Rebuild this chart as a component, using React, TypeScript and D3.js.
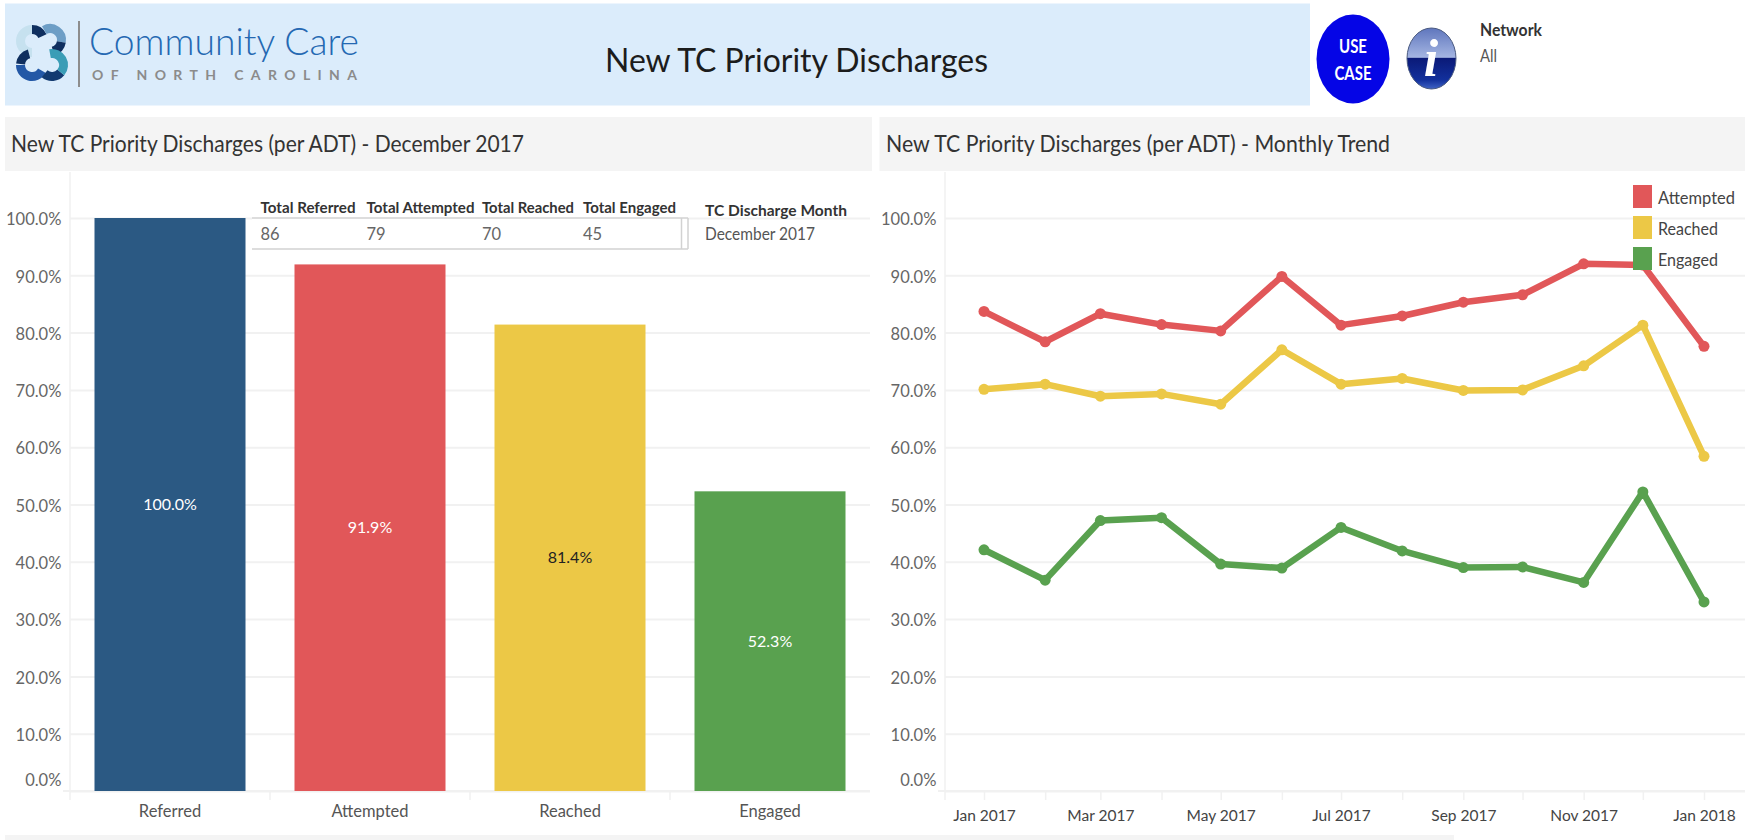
import { useEffect, useRef } from 'react'
import * as d3 from 'd3'

const categories = ['Referred', 'Attempted', 'Reached', 'Engaged']
const barValues = [100, 91.9, 81.4, 52.3]
const barColors = ['#2b5983', '#e15759', '#ecc846', '#59a14f']
const barLabelColors = ['#ffffff', '#ffffff', '#222222', '#ffffff']
const yTicks = [0, 10, 20, 30, 40, 50, 60, 70, 80, 90, 100]

const months = ['2017-01', '2017-02', '2017-03', '2017-04', '2017-05', '2017-06', '2017-07', '2017-08', '2017-09', '2017-10', '2017-11', '2017-12', '2018-01']
const attempted = [83.7, 78.4, 83.3, 81.4, 80.3, 89.8, 81.3, 82.9, 85.3, 86.6, 92.0, 91.8, 77.6]
const reached = [70.1, 71.0, 68.9, 69.3, 67.5, 77.0, 71.0, 72.0, 69.9, 70.0, 74.2, 81.3, 58.4]
const engaged = [42.1, 36.8, 47.2, 47.7, 39.6, 38.9, 46.0, 41.9, 39.0, 39.1, 36.4, 52.2, 33.0]
const trendNames = ['Attempted', 'Reached', 'Engaged']
const trendColors = ['#e15759', '#ecc846', '#59a14f']

const tableHeaders = ['Total Referred', 'Total Attempted', 'Total Reached', 'Total Engaged']
const tableValues = ['86', '79', '70', '45']

const FONT = 'Lato, sans-serif'
const GRID = '#f1f1f1'

export default function App() {
  const svgRef = useRef<SVGSVGElement>(null)

  useEffect(() => {
    if (!svgRef.current) return
    const svg = d3.select(svgRef.current)
    svg.selectAll('*').remove()
    svg.attr('font-family', FONT)

    // text squeezed to a measured width, the source font runs narrow
    const label = (x: number, y: number, str: string, size: number, fill: string, width?: number, weight = 'normal') => {
      const t = svg.append('text').attr('x', x).attr('y', y).attr('font-size', size)
        .attr('font-weight', weight).attr('fill', fill).text(str)
      if (width) t.attr('textLength', width).attr('lengthAdjust', 'spacingAndGlyphs')
      return t
    }

    // Header
    svg.append('rect').attr('x', 5).attr('y', 3.5).attr('width', 1305).attr('height', 102).attr('fill', '#dbecfb')
    label(605, 72, 'New TC Priority Discharges', 33, '#1c1c1c', 383)

    // Logo, four looped bands: cx, cy, start and end angle, colour
    const arc = d3.arc()
    const loops: [number, number, number, number, string][] = [
      [32, 41, 180, 360, '#c6e1ef'],
      [32, 41, 0, 65, '#0f2f5f'],
      [50, 40, -30, 100, '#6d9ec6'],
      [50, 40, 100, 165, '#0f2f5f'],
      [32, 65, 120, 270, '#2358a6'],
      [32, 65, 275, 345, '#0f2f5f'],
      [52, 65, 130, 220, '#123a70'],
      [52, 65, -10, 130, '#3a9db6'],
    ]
    svg.append('g').selectAll('path').data(loops).join('path')
      .attr('transform', d => `translate(${d[0]},${d[1]})`)
      .attr('d', d => arc({ innerRadius: 7, outerRadius: 16, startAngle: d[2] * Math.PI / 180, endAngle: d[3] * Math.PI / 180 } as any))
      .attr('fill', d => d[4])
    svg.append('rect').attr('x', 78).attr('y', 21).attr('width', 2).attr('height', 66).attr('fill', '#8d8d8d')
    label(89, 55, 'Community Care', 37, '#2468b2', 270, '300')
    label(92, 80, 'OF NORTH CAROLINA', 14, '#8b8b8b', 265, 'bold').attr('lengthAdjust', 'spacing')

    // Use case and info buttons
    svg.append('ellipse').attr('cx', 1353).attr('cy', 59).attr('rx', 36.5).attr('ry', 44.5).attr('fill', '#0505e6')
    label(1353, 53, 'USE', 19, '#ffffff', 28, 'bold').attr('text-anchor', 'middle')
    label(1353, 80, 'CASE', 19, '#ffffff', 37, 'bold').attr('text-anchor', 'middle')

    const defs = svg.append('defs')
    const top = defs.append('linearGradient').attr('id', 'infoFill').attr('x1', 0).attr('x2', 0).attr('y1', 0).attr('y2', 1)
    const stops: [string, string][] = [['0%', '#5f76bd'], ['48%', '#a4b5e2'], ['50%', '#0b1a78'], ['85%', '#12309c'], ['100%', '#3f63c4']]
    stops.forEach(([o, c]) => top.append('stop').attr('offset', o).attr('stop-color', c))
    svg.append('ellipse').attr('cx', 1431.5).attr('cy', 58.5).attr('rx', 24.5).attr('ry', 30.5)
      .attr('fill', 'url(#infoFill)').attr('stroke', '#4a5a80').attr('stroke-width', 1)
    label(1431, 76, 'i', 52, '#ffffff', undefined, 'bold')
      .attr('text-anchor', 'middle').attr('font-style', 'italic').attr('font-family', '"Liberation Serif", serif')

    label(1480, 36, 'Network', 16.5, '#333333', 62, 'bold')
    label(1480, 62, 'All', 16.5, '#555555', 17)

    // Section title bars
    const bars: [number, number, number, number][] = [[5, 117, 867, 54], [879.5, 117, 865.5, 54], [5, 835, 1449, 5]]
    svg.append('g').selectAll('rect').data(bars).join('rect')
      .attr('x', d => d[0]).attr('y', d => d[1]).attr('width', d => d[2]).attr('height', d => d[3]).attr('fill', '#f4f4f4')
    label(11, 152, 'New TC Priority Discharges (per ADT) - December 2017', 23, '#333333', 513)
    label(886, 152, 'New TC Priority Discharges (per ADT) - Monthly Trend', 23, '#333333', 504)

    // Shared value scale
    const y = d3.scaleLinear().domain([0, 100]).range([791, 218])

    const drawYAxis = (left: number, right: number) => {
      const g = svg.append('g').attr('transform', `translate(${left},0)`)
        .call(d3.axisLeft(y).tickValues(yTicks).tickSize(left - right).tickPadding(8.6)
          .tickFormat(d => `${(+d).toFixed(1)}%`))
      g.select('.domain').remove()
      g.selectAll('.tick line').attr('stroke', GRID).attr('stroke-width', 2)
      g.selectAll<SVGTextElement, number>('.tick text')
        .attr('font-family', FONT).attr('font-size', 16.5).attr('fill', '#666666')
        .attr('y', d => (d === 0 ? -10.6 : 1.5))
      svg.append('line').attr('x1', left).attr('x2', left).attr('y1', 172).attr('y2', 800).attr('stroke', GRID).attr('stroke-width', 1.5)
      svg.append('line').attr('x1', left - 7).attr('x2', right).attr('y1', y(0)).attr('y2', y(0)).attr('stroke', GRID).attr('stroke-width', 2)
    }

    // Left chart
    const x = d3.scaleBand().domain(categories).range([70, 870]).paddingInner(0.245).paddingOuter(0.1225)
    drawYAxis(70, 870)

    const xAxis = svg.append('g').attr('transform', `translate(0,${y(0)})`)
      .call(d3.axisBottom(x).tickSize(0).tickPadding(14))
    xAxis.select('.domain').remove()
    xAxis.selectAll('text').attr('font-family', FONT).attr('font-size', 16.5).attr('fill', '#555555')

    svg.append('g').selectAll('line').data(categories.slice(1)).join('line')
      .attr('x1', d => x(d)! - x.step() * x.paddingInner() / 2)
      .attr('x2', d => x(d)! - x.step() * x.paddingInner() / 2)
      .attr('y1', y(0)).attr('y2', y(0) + 9).attr('stroke', GRID).attr('stroke-width', 1.5)

    svg.append('g').selectAll('rect').data(categories).join('rect')
      .attr('x', d => x(d)!)
      .attr('y', (_, i) => y(barValues[i]))
      .attr('width', x.bandwidth())
      .attr('height', (_, i) => y(0) - y(barValues[i]))
      .attr('fill', (_, i) => barColors[i])

    svg.append('g').selectAll('text').data(categories).join('text')
      .attr('x', d => x(d)! + x.bandwidth() / 2)
      .attr('y', (_, i) => y(barValues[i] / 2) + 5.5)
      .attr('text-anchor', 'middle').attr('font-size', 16)
      .attr('fill', (_, i) => barLabelColors[i])
      .text((_, i) => `${barValues[i].toFixed(1)}%`)

    // Totals table over the bars
    const headerX = [260.5, 366.5, 482, 583]
    const headerW = [95, 108, 92, 93]
    svg.append('rect').attr('x', 252).attr('y', 186).attr('width', 436).attr('height', 63).attr('fill', '#ffffff')
    tableHeaders.forEach((h, i) => {
      label(headerX[i], 213, h, 15.5, '#333333', headerW[i], 'bold')
      label(headerX[i], 240, tableValues[i], 16.5, '#666666')
    })
    const tableLines: [number, number, number, number][] = [[252, 218, 688, 218], [252, 249, 688, 249], [681.5, 218, 681.5, 249], [688, 218, 688, 249]]
    svg.append('g').selectAll('line').data(tableLines).join('line')
      .attr('x1', d => d[0]).attr('y1', d => d[1]).attr('x2', d => d[2]).attr('y2', d => d[3])
      .attr('stroke', '#d2d2d2').attr('stroke-width', 1.5)
    label(705, 215.5, 'TC Discharge Month', 16, '#333333', 142, 'bold')
    label(705, 240, 'December 2017', 16.5, '#555555', 110)

    // Right chart
    const parseMonth = d3.utcParse('%Y-%m')
    const dates = months.map(m => parseMonth(m)!)
    const t = d3.scaleUtc().domain([dates[0], dates[12]]).range([984, 1704])
    drawYAxis(945, 1745)

    const monthAxis = svg.append('g').attr('transform', `translate(0,${y(0)})`)
      .call(d3.axisBottom(t).tickValues(dates).tickSize(9).tickPadding(10)
        .tickFormat((d, i) => (i % 2 === 0 ? d3.utcFormat('%b %Y')(d as Date) : '')))
    monthAxis.select('.domain').remove()
    monthAxis.selectAll('.tick line').attr('stroke', GRID).attr('stroke-width', 1.5)
    monthAxis.selectAll('text').attr('font-family', FONT).attr('font-size', 15.5).attr('fill', '#444444')

    const line = d3.line<number>().x((_, i) => t(dates[i])).y(d => y(d))
    ;[attempted, reached, engaged].forEach((series, s) => {
      svg.append('path').datum(series).attr('fill', 'none')
        .attr('stroke', trendColors[s]).attr('stroke-width', 6.5).attr('stroke-linejoin', 'round').attr('d', line)
      svg.append('g').selectAll('circle').data(series).join('circle')
        .attr('cx', (_, i) => t(dates[i])).attr('cy', d => y(d)).attr('r', 5.5).attr('fill', trendColors[s])
    })

    // Legend sits on top of the lines
    const legendY = d3.scalePoint().domain(trendNames).range([185, 247])
    trendNames.forEach((name, i) => {
      svg.append('rect').attr('x', 1633).attr('y', legendY(name)!).attr('width', 19).attr('height', 23).attr('fill', trendColors[i])
      label(1658, legendY(name)! + 19, name, 16.5, '#444444', i === 0 ? 77 : 60)
    })
  }, [])

  return <svg ref={svgRef} width={1750} height={840} style={{ position: 'fixed', left: 0, top: 0, background: '#ffffff' }} />
}
